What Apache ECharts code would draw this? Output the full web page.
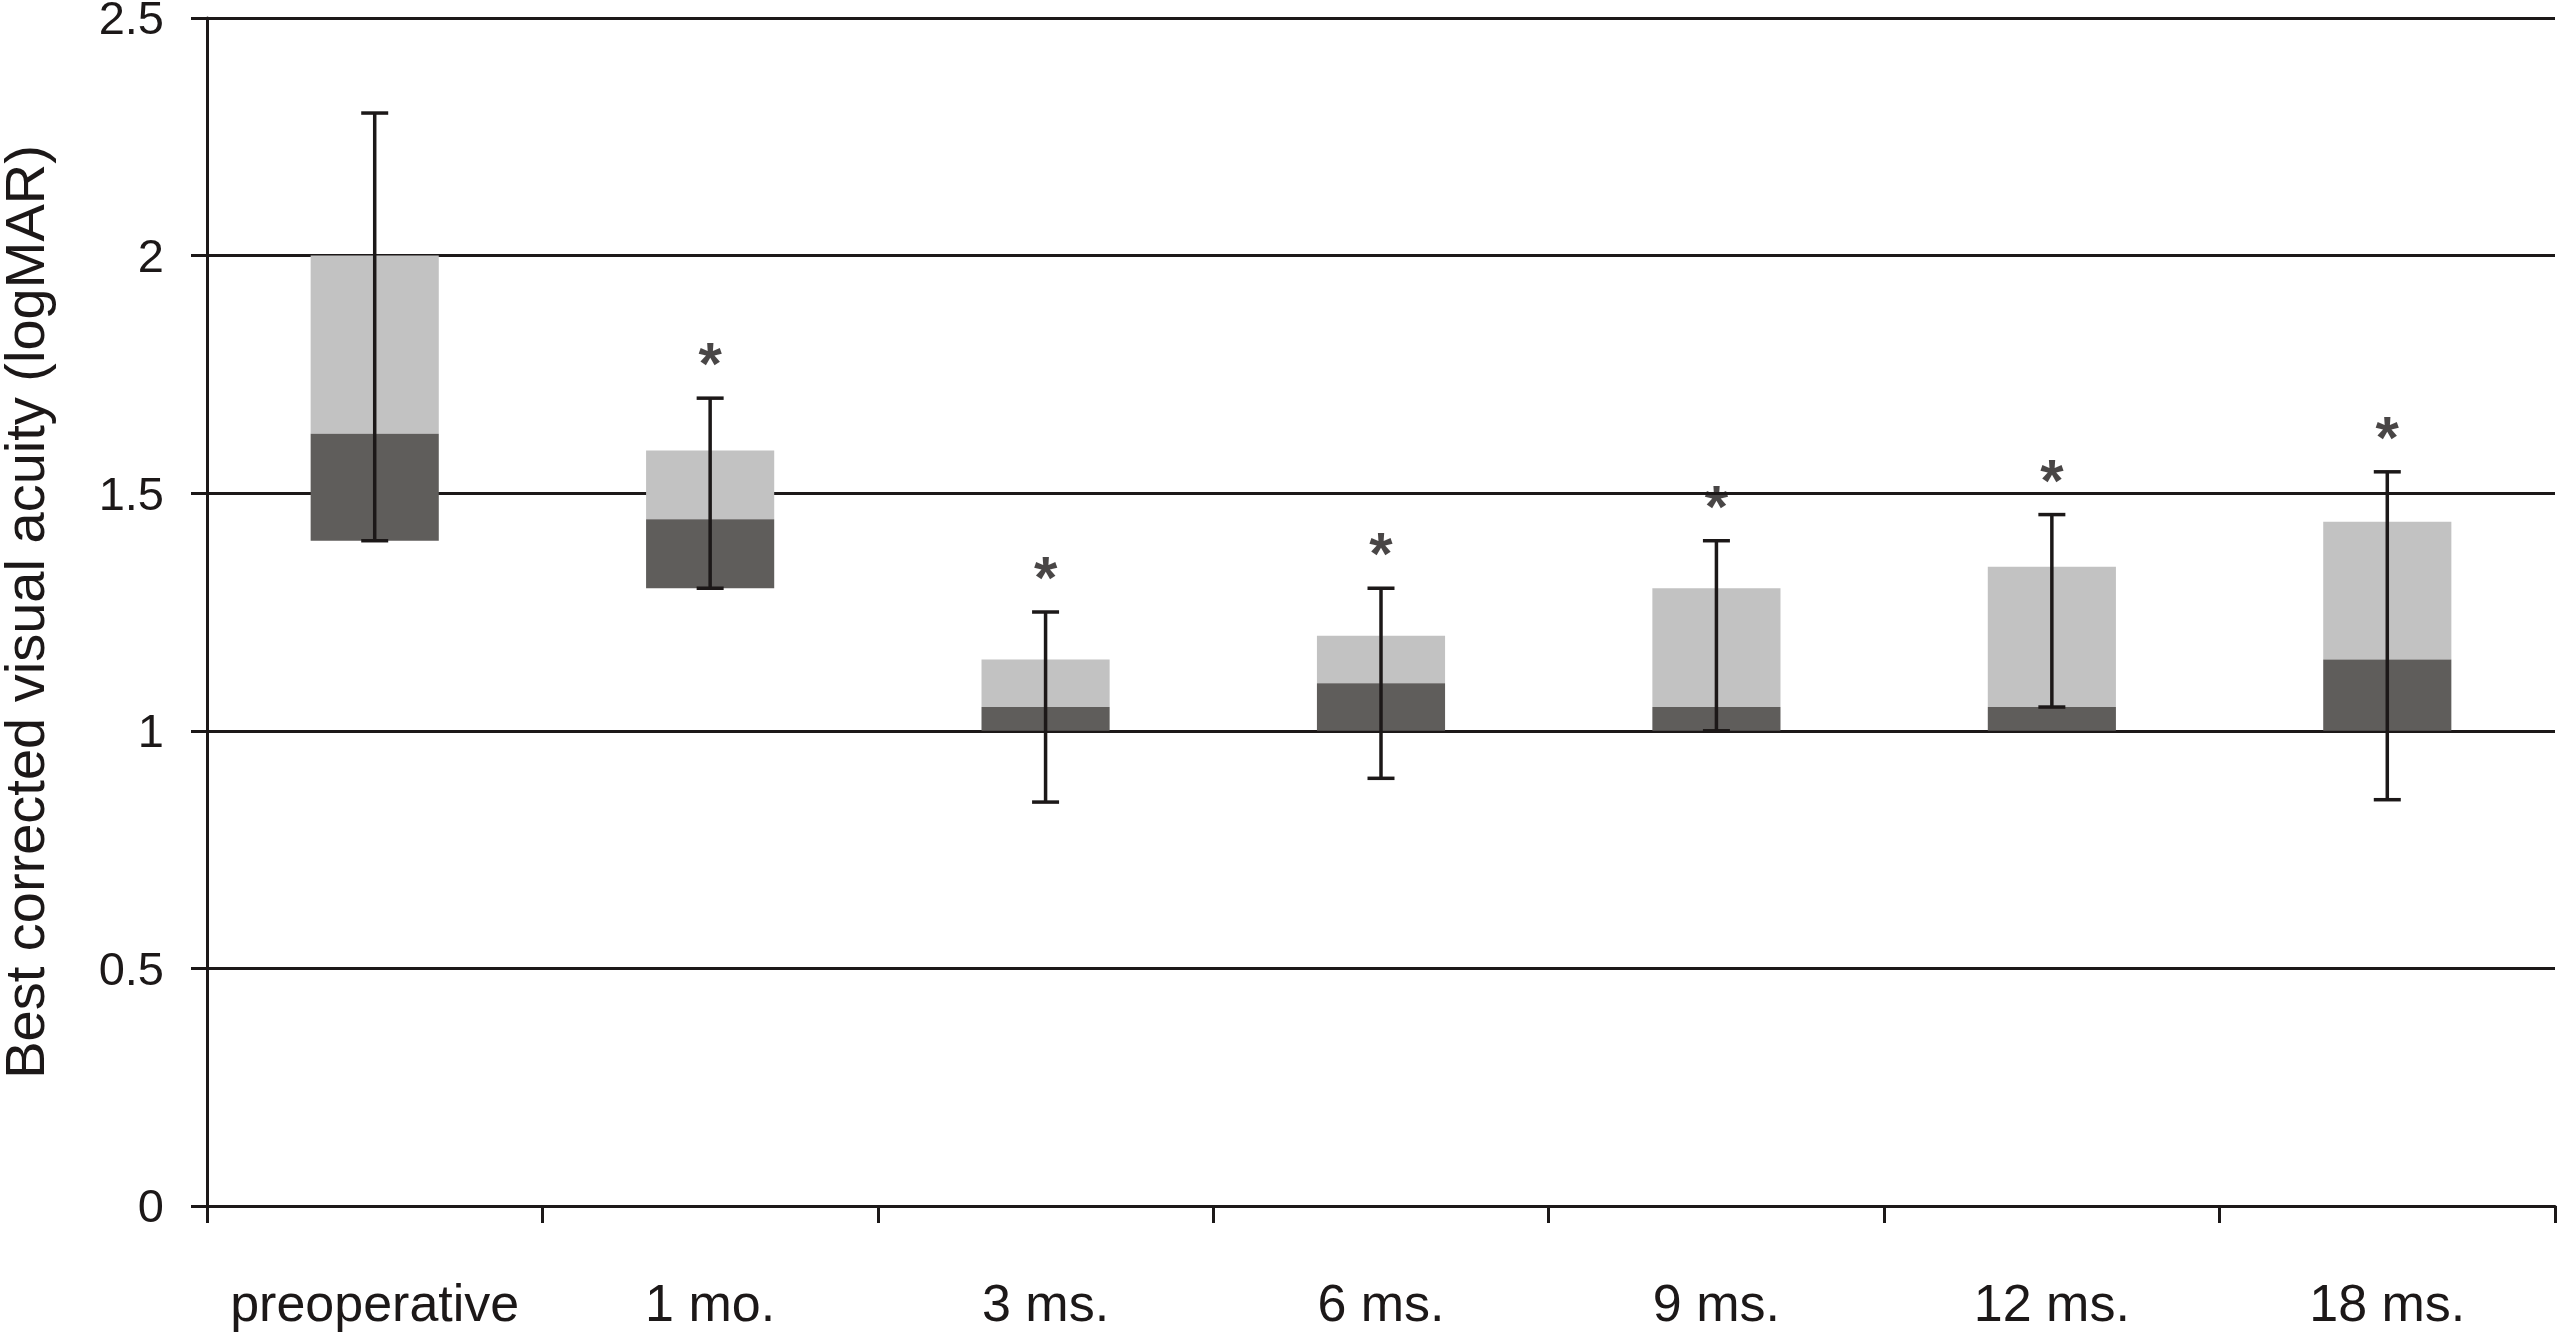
<!DOCTYPE html>
<html>
<head>
<meta charset="utf-8">
<script src="https://cdn.jsdelivr.net/npm/echarts@6/dist/echarts.min.js"></script>
<style>
html,body{margin:0;padding:0;background:#fff;}
#chart{width:2558px;height:1334px;}
</style>
</head>
<body>
<div id="chart"></div>
<script>
// ---- data ----
const categories = ['preoperative', '1 mo.', '3 ms.', '6 ms.', '9 ms.', '12 ms.', '18 ms.'];
const lowerQuartile = [1.40, 1.30, 1.00, 1.00, 1.00, 1.00, 1.00];
const medianValues  = [1.625, 1.445, 1.05, 1.10, 1.05, 1.05, 1.15];
const upperQuartile = [2.00, 1.59, 1.15, 1.20, 1.30, 1.345, 1.44];
const minValues     = [1.40, 1.30, 0.85, 0.90, 1.00, 1.05, 0.855];
const maxValues     = [2.30, 1.70, 1.25, 1.30, 1.40, 1.455, 1.545];
const significant   = [false, true, true, true, true, true, true];
const yTicks = [0, 0.5, 1, 1.5, 2, 2.5];

const boxData = categories.map((c, i) => [i, lowerQuartile[i], medianValues[i], upperQuartile[i], minValues[i], maxValues[i]]);
const starData = categories.map((c, i) => significant[i] ? [i, maxValues[i]] : null).filter(d => d);

const FONT = '"Liberation Sans", Arial, sans-serif';
const INK = '#1c1818';
const DARK = '#5f5d5b';
const LIGHT = '#c2c2c2';

const chart = echarts.init(document.getElementById('chart'), null, {renderer: 'canvas'});

function renderBox(params, api) {
  const x = api.value(0);
  const pQ1 = api.coord([x, api.value(1)]);
  const pMed = api.coord([x, api.value(2)]);
  const pQ3 = api.coord([x, api.value(3)]);
  const bw = api.size([1, 0])[0] * 0.382;
  const left = pQ1[0] - bw / 2;
  return {
    type: 'group',
    children: [
      {type: 'rect', shape: {x: left, y: pQ3[1], width: bw, height: pMed[1] - pQ3[1]}, style: {fill: LIGHT}},
      {type: 'rect', shape: {x: left, y: pMed[1], width: bw, height: pQ1[1] - pMed[1]}, style: {fill: DARK}}
    ]
  };
}

function renderWhisker(params, api) {
  const x = api.value(0);
  const pMin = api.coord([x, api.value(4)]);
  const pMax = api.coord([x, api.value(5)]);
  const cap = 27;
  const st = {stroke: INK, lineWidth: 3.5};
  return {
    type: 'group',
    children: [
      {type: 'line', shape: {x1: pMin[0], y1: pMin[1], x2: pMax[0], y2: pMax[1]}, style: st},
      {type: 'line', shape: {x1: pMax[0] - cap / 2, y1: pMax[1], x2: pMax[0] + cap / 2, y2: pMax[1]}, style: st},
      {type: 'line', shape: {x1: pMin[0] - cap / 2, y1: pMin[1], x2: pMin[0] + cap / 2, y2: pMin[1]}, style: st}
    ]
  };
}

const option = {
  backgroundColor: '#ffffff',
  animation: false,
  grid: {left: 207, right: 3, top: 18, bottom: 128, containLabel: false, outerBoundsMode: 'none'},
  xAxis: {
    type: 'category',
    data: categories,
    boundaryGap: true,
    axisLine: {show: true, lineStyle: {color: INK, width: 3}},
    axisTick: {show: true, inside: false, length: 17, interval: 0, lineStyle: {color: INK, width: 3}},
    axisLabel: {show: true, interval: 0, color: INK, fontFamily: FONT, fontSize: 52, lineHeight: 52, margin: 75},
    splitLine: {show: false}
  },
  yAxis: {
    type: 'value',
    min: 0,
    max: 2.5,
    interval: 0.5,
    name: 'Best corrected visual acuity (logMAR)',
    nameLocation: 'middle',
    nameRotate: 90,
    nameGap: 150,
    nameTextStyle: {color: INK, fontFamily: FONT, fontSize: 56},
    axisLine: {show: true, lineStyle: {color: INK, width: 3}},
    axisTick: {show: true, inside: false, length: 16, lineStyle: {color: INK, width: 3}},
    axisLabel: {
      show: true, color: INK, fontFamily: FONT, fontSize: 47, margin: 43,
      formatter: v => {
        const t = yTicks.find(k => Math.abs(k - v) < 1e-9);
        return t === undefined ? '' : '{t|' + t + '}';
      },
      rich: {
        t: {color: INK, fontFamily: FONT, fontSize: 47, lineHeight: 47, padding: [7, 0, 0, 0]}
      }
    },
    splitLine: {show: true, lineStyle: {color: INK, width: 3}}
  },
  series: [
    {
      type: 'custom',
      name: 'box',
      renderItem: renderBox,
      encode: {x: 0, y: [1, 2, 3]},
      data: boxData,
      z: 2
    },
    {
      type: 'custom',
      name: 'range',
      renderItem: renderWhisker,
      encode: {x: 0, y: [4, 5]},
      data: boxData,
      z: 3
    },
    {
      type: 'scatter',
      name: 'significance',
      data: starData,
      symbol: 'circle',
      symbolSize: 1,
      itemStyle: {color: 'rgba(0,0,0,0)'},
      label: {
        show: true,
        position: 'top',
        distance: 0,
        formatter: '*',
        color: INK,
        fontFamily: FONT,
        fontSize: 60,
        fontWeight: 'bold'
      },
      z: 4
    }
  ]
};

chart.setOption(option);
</script>
</body>
</html>
